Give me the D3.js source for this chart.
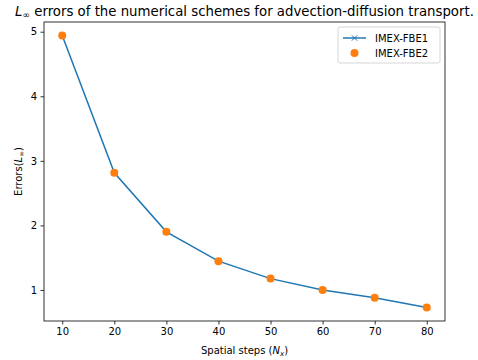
<!DOCTYPE html>
<html>
<head>
<meta charset="utf-8">
<script src="https://cdn.jsdelivr.net/npm/d3@7"></script>
<style>
  body { margin: 0; background: #fff; }
  svg text { font-family: "DejaVu Sans", sans-serif; fill: #000; }
</style>
</head>
<body>
<svg id="chart" width="478" height="360"></svg>
<script>
// data
const steps = [10, 20, 30, 40, 50, 60, 70, 80];
const fbe1 = [4.94, 2.815, 1.90, 1.446, 1.176, 1.00, 0.88, 0.73];
const fbe2 = [4.94, 2.815, 1.90, 1.446, 1.176, 1.00, 0.88, 0.73];
const xTicks = [10, 20, 30, 40, 50, 60, 70, 80];
const yTicks = [1, 2, 3, 4, 5];

const svg = d3.select("#chart"),
      margin = { top: 22, right: 33, bottom: 39, left: 44 },
      width = +svg.attr("width"),
      height = +svg.attr("height");

const xScale = d3.scaleLinear().domain([6.5, 83.5]).range([margin.left, width - margin.right]);
const yScale = d3.scaleLinear().domain([0.5195, 5.1505]).range([height - margin.bottom, margin.top]);

// axes
const xAxis = svg.append("g")
    .attr("transform", `translate(0,${height - margin.bottom})`)
    .call(d3.axisBottom(xScale).tickValues(xTicks).tickFormat(d3.format("d")).tickSize(3.5).tickPadding(3.5).tickSizeOuter(0));
const yAxis = svg.append("g")
    .attr("transform", `translate(${margin.left},0)`)
    .call(d3.axisLeft(yScale).tickValues(yTicks).tickFormat(d3.format("d")).tickSize(3.5).tickPadding(3.5).tickSizeOuter(0));

[xAxis, yAxis].forEach(a => {
    a.select(".domain").remove();
    a.selectAll("text").style("font-size", "10px").style("font-family", "DejaVu Sans");
    a.selectAll("line").attr("stroke", "#000").attr("stroke-width", 0.8);
});

// frame
svg.append("rect")
    .attr("x", margin.left).attr("y", margin.top)
    .attr("width", width - margin.left - margin.right)
    .attr("height", height - margin.top - margin.bottom)
    .attr("fill", "none").attr("stroke", "#000").attr("stroke-width", 0.8);

const pts1 = steps.map((s, i) => ({ x: s, y: fbe1[i] }));
const pts2 = steps.map((s, i) => ({ x: s, y: fbe2[i] }));

const line = d3.line().x(d => xScale(d.x)).y(d => yScale(d.y));

svg.append("path")
    .datum(pts1)
    .attr("fill", "none")
    .attr("stroke", "#1f77b4")
    .attr("stroke-width", 1.5)
    .attr("d", line);

// x markers for series 1
const cross = d3.symbol().type(d3.symbolX).size(20);
svg.selectAll(".m1").data(pts1).enter()
    .append("path")
    .attr("class", "m1")
    .attr("transform", d => `translate(${xScale(d.x)},${yScale(d.y)})`)
    .attr("d", cross)
    .attr("fill", "none")
    .attr("stroke", "#1f77b4")
    .attr("stroke-width", 1);

// orange dots for series 2
svg.selectAll(".m2").data(pts2).enter()
    .append("circle")
    .attr("class", "m2")
    .attr("cx", d => xScale(d.x))
    .attr("cy", d => yScale(d.y))
    .attr("r", 4)
    .attr("fill", "#ff7f0e");

// title
const title = svg.append("text")
    .attr("x", (margin.left + width - margin.right) / 2)
    .attr("y", 16)
    .attr("text-anchor", "middle")
    .style("font-size", "13.3px");
title.append("tspan").style("font-style", "italic").text("L");
title.append("tspan").attr("dy", 2).style("font-size", "9px").text("∞");
title.append("tspan").attr("dy", -2).text(" errors of the numerical schemes for advection-diffusion transport.");

// x label
const xl = svg.append("text")
    .attr("x", (margin.left + width - margin.right) / 2)
    .attr("y", 354)
    .attr("text-anchor", "middle")
    .style("font-size", "10px");
xl.append("tspan").text("Spatial steps (");
xl.append("tspan").style("font-style", "italic").text("N");
xl.append("tspan").attr("dy", 2).style("font-size", "7px").style("font-style", "italic").text("x");
xl.append("tspan").attr("dy", -2).text(")");

// y label
const yl = svg.append("text")
    .attr("transform", `translate(22,${(margin.top + height - margin.bottom) / 2}) rotate(-90)`)
    .attr("text-anchor", "middle")
    .style("font-size", "10px");
yl.append("tspan").text("Errors(");
yl.append("tspan").style("font-style", "italic").text("L");
yl.append("tspan").attr("dy", 2).style("font-size", "7px").text("∞");
yl.append("tspan").attr("dy", -2).text(")");

// legend
const legend = svg.append("g");
legend.append("rect")
    .attr("x", 338).attr("y", 27).attr("width", 102).attr("height", 36)
    .attr("rx", 2).attr("fill", "#fff").attr("fill-opacity", 0.8)
    .attr("stroke", "#ccc").attr("stroke-width", 0.8);
legend.append("line")
    .attr("x1", 343).attr("x2", 366).attr("y1", 38).attr("y2", 38)
    .attr("stroke", "#1f77b4").attr("stroke-width", 1.5);
legend.append("path")
    .attr("transform", "translate(354.5,38)")
    .attr("d", cross)
    .attr("fill", "none").attr("stroke", "#1f77b4").attr("stroke-width", 1);
legend.append("circle")
    .attr("cx", 354.5).attr("cy", 53).attr("r", 4).attr("fill", "#ff7f0e");
legend.append("text").attr("x", 375).attr("y", 41.5).style("font-size", "10px").text("IMEX-FBE1");
legend.append("text").attr("x", 375).attr("y", 56.5).style("font-size", "10px").text("IMEX-FBE2");
</script>
</body>
</html>
